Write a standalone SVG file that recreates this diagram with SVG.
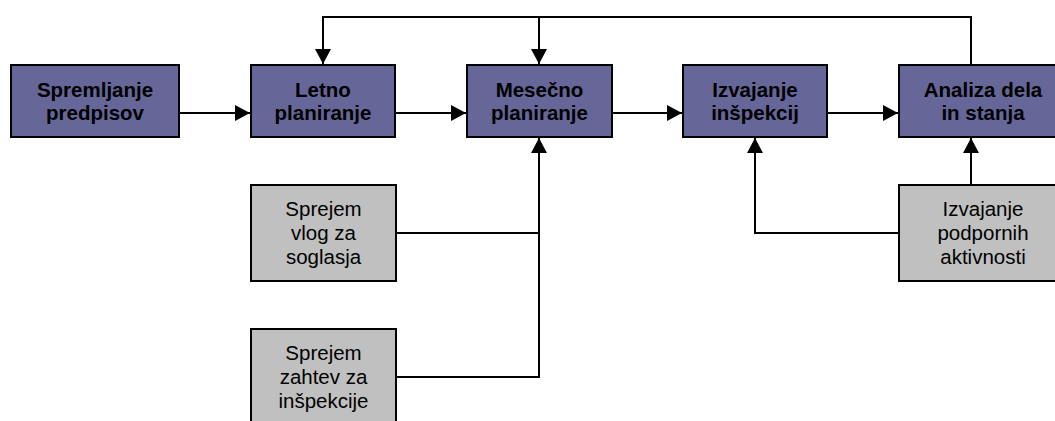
<svg xmlns="http://www.w3.org/2000/svg" width="1055" height="421" viewBox="0 0 1055 421">
<defs>
<style>
.main rect{fill:#666699;stroke:#000;stroke-width:2}
.sub rect{fill:#c0c0c0;stroke:#000;stroke-width:2}
.main text{font-family:"Liberation Sans",Arial,sans-serif;font-size:20.5px;font-weight:bold;fill:#000;text-anchor:middle}
.sub text{font-family:"Liberation Sans",Arial,sans-serif;font-size:20.5px;fill:#000;text-anchor:middle}
.conn path{fill:none;stroke:#000;stroke-width:2}
</style>
<marker id="arr" markerUnits="userSpaceOnUse" markerWidth="15" markerHeight="16" refX="15" refY="8" orient="auto">
<path d="M0,0 L15,8 L0,16 z" fill="#000"/>
</marker>
</defs>
<rect width="1055" height="421" fill="#fff"/>
<g class="conn">
<path d="M179,113 H250" marker-end="url(#arr)"/>
<path d="M395,113 H466" marker-end="url(#arr)"/>
<path d="M612,113 H682" marker-end="url(#arr)"/>
<path d="M827,113 H898" marker-end="url(#arr)"/>
<path d="M971,65 V17 H323 V64" marker-end="url(#arr)"/>
<path d="M539,17 V64" marker-end="url(#arr)"/>
<path d="M396,233 H539"/>
<path d="M396,377 H539 V138" marker-end="url(#arr)"/>
<path d="M899,233 H755 V138" marker-end="url(#arr)"/>
<path d="M971,185 V138" marker-end="url(#arr)"/>
</g>
<g id="spremljanje" class="main">
<rect x="11" y="65" width="168" height="72"/>
<text x="95" y="96.5">Spremljanje</text>
<text x="95" y="119.5">predpisov</text>
</g>
<g id="letno" class="main">
<rect x="251" y="65" width="144" height="72"/>
<text x="323" y="96.5">Letno</text>
<text x="323" y="119.5">planiranje</text>
</g>
<g id="mesecno" class="main">
<rect x="467" y="65" width="145" height="72"/>
<text x="539.5" y="96.5">Mesečno</text>
<text x="539.5" y="119.5">planiranje</text>
</g>
<g id="izvajanje" class="main">
<rect x="683" y="65" width="144" height="72"/>
<text x="755" y="96.5">Izvajanje</text>
<text x="755" y="119.5">inšpekcij</text>
</g>
<g id="analiza" class="main">
<rect x="899" y="65" width="168" height="72"/>
<text x="983" y="96.5">Analiza dela</text>
<text x="983" y="119.5">in stanja</text>
</g>
<g id="vloge" class="sub">
<rect x="251" y="185" width="145" height="96"/>
<text x="323.5" y="216">Sprejem</text>
<text x="323.5" y="240">vlog za</text>
<text x="323.5" y="264">soglasja</text>
</g>
<g id="zahteve" class="sub">
<rect x="251" y="329" width="145" height="96"/>
<text x="323.5" y="360">Sprejem</text>
<text x="323.5" y="384">zahtev za</text>
<text x="323.5" y="408">inšpekcije</text>
</g>
<g id="podporne" class="sub">
<rect x="899" y="185" width="168" height="96"/>
<text x="983" y="216">Izvajanje</text>
<text x="983" y="240">podpornih</text>
<text x="983" y="264">aktivnosti</text>
</g>
</svg>
